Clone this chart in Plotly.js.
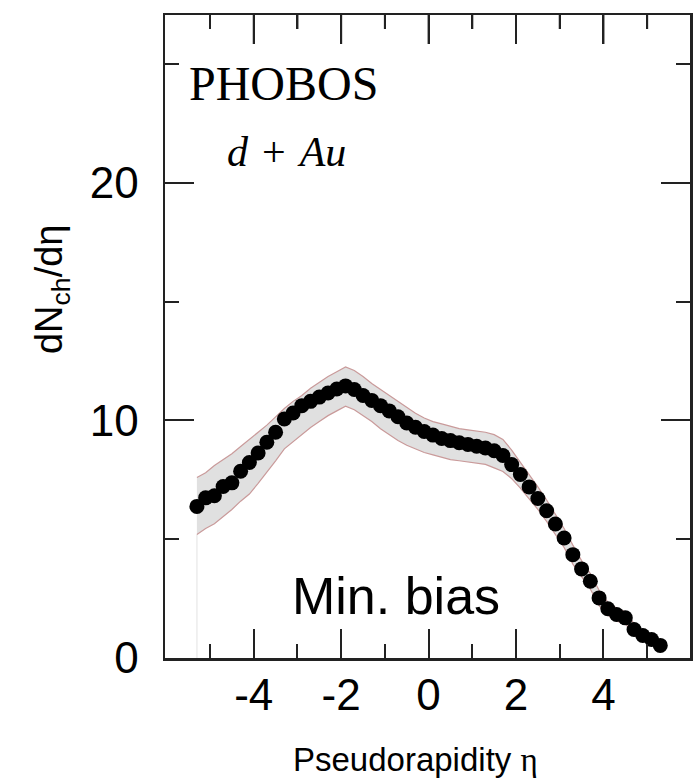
<!DOCTYPE html>
<html>
<head>
<meta charset="utf-8">
<script src="https://cdn.plot.ly/plotly-3.0.1.min.js"></script>
<style>html,body{margin:0;padding:0;background:#fff;}</style>
</head>
<body>
<div id="chart" style="width:695px;height:778px;"></div>
<script>
const eta = [-5.3,-5.1,-4.9,-4.7,-4.5,-4.3,-4.1,-3.9,-3.7,-3.5,-3.3,-3.1,-2.9,-2.7,-2.5,-2.3,-2.1,-1.9,
  -1.7,-1.5,-1.3,-1.1,-0.9,-0.7,-0.5,-0.3,-0.1,0.1,0.3,0.5,0.7,0.9,1.1,1.3,1.5,
  1.7,1.9,2.1,2.3,2.5,2.7,2.9,3.1,3.3,3.5,3.7,3.9,4.1,4.3,4.5,4.7,4.9,5.1,5.3];
const dndeta = [6.38,6.74,6.83,7.22,7.37,7.86,8.23,8.63,9.08,9.50,10.06,10.31,10.62,10.80,10.98,11.15,11.32,11.45,
  11.30,11.05,10.84,10.62,10.40,10.15,9.89,9.71,9.53,9.38,9.24,9.15,9.06,8.99,8.91,8.84,8.72,
  8.52,8.14,7.72,7.20,6.71,6.20,5.64,5.05,4.35,3.75,3.23,2.53,2.07,1.83,1.69,1.20,0.95,0.78,0.53];
const bandHigh = [7.6,7.8,8.1,8.35,8.6,8.9,9.2,9.5,9.8,10.15,10.5,10.8,11.05,11.35,11.6,11.85,12.05,12.25,
  12.1,11.85,11.55,11.3,11.05,10.8,10.55,10.3,10.1,9.95,9.85,9.75,9.65,9.6,9.55,9.5,9.4,
  9.2,8.75,8.25,7.7,7.2,6.65,6.05,5.45,4.75,4.1,3.55,2.85,2.35,2.1,1.95,1.45,1.15,0.95,0.7];
const bandLow = [5.2,5.45,5.65,5.95,6.25,6.6,6.9,7.35,7.8,8.3,8.8,9.1,9.4,9.7,9.95,10.2,10.4,10.6,
  10.45,10.2,9.95,9.65,9.4,9.15,8.95,8.8,8.65,8.55,8.45,8.35,8.3,8.25,8.2,8.15,8.0,
  7.85,7.55,7.15,6.7,6.25,5.75,5.2,4.65,3.95,3.4,2.9,2.2,1.8,1.55,1.45,0.95,0.75,0.6,0.35];
const xTickVals = [-4,-2,0,2,4];
const xTickText = ['-4','-2','0','2','4'];
const xMinorVals = [-5,-3,-1,1,3,5];
const yTickVals = [0,10,20];
const yTickText = ['0','10','20'];
const yMinorVals = [5,15,25];
const xRange = [-6.03, 5.98];
const yRange = [0, 27.06];

const bandLine = {color:'#c99a9a', width:1.2};
const traces = [
  {x: [eta[0], eta[0]], y: [0, bandLow[0]], mode:'lines', line:{color:'#ececec', width:1.5}, hoverinfo:'skip', showlegend:false},
  {x: eta, y: bandLow, mode:'lines', line: bandLine, hoverinfo:'skip', showlegend:false},
  {x: eta, y: bandHigh, mode:'lines', line: bandLine, fill:'tonexty', fillcolor:'#e0e0e0', hoverinfo:'skip', showlegend:false},
  {x: eta, y: dndeta, mode:'markers', marker:{color:'#000', size:15}, showlegend:false},
  {x: [], y: [], xaxis:'x2', yaxis:'y2', mode:'markers', showlegend:false, hoverinfo:'skip'}
];

const sans = 'Liberation Sans, Arial, Helvetica, sans-serif';
const serif = 'Liberation Serif, Times New Roman, serif';
const tickCol = '#222';
const plotH = 643;
function minorX() { return {tickmode:'array', tickvals: xMinorVals, ticks:'inside', ticklen: 14, tickwidth: 2, tickcolor: tickCol, showgrid:false}; }
function minorY() { return {tickmode:'array', tickvals: yMinorVals, ticks:'inside', ticklen: 14, tickwidth: 2, tickcolor: tickCol, showgrid:false}; }

// top-edge tick marks placed through the x scale (xref 'x')
const topTicks = xTickVals.map(v => ({type:'line', xref:'x', yref:'paper', x0:v, x1:v, y0:1, y1:1 - 29/plotH, line:{color:tickCol, width:2}, layer:'above'}))
  .concat(xMinorVals.map(v => ({type:'line', xref:'x', yref:'paper', x0:v, x1:v, y0:1, y1:1 - 14/plotH, line:{color:tickCol, width:2}, layer:'above'})));

const layout = {
  width: 695, height: 778,
  margin: {l:165, r:5, t:15, b:120},
  paper_bgcolor:'#fff', plot_bgcolor:'#fff',
  showlegend:false,
  xaxis: {
    range: xRange, tickmode:'array', tickvals: xTickVals, ticktext: xTickText,
    ticks:'inside', ticklen: 29, tickwidth: 2, tickcolor: tickCol, minor: minorX(),
    showline:true, linecolor:'#222', linewidth:2.5, mirror:true,
    showgrid:false, zeroline:false,
    tickfont:{family: sans, size: 44, color:'#000'}, ticklabelstandoff: -3
  },
  yaxis: {
    range: yRange, tickmode:'array', tickvals: yTickVals, ticktext: yTickText,
    ticks:'inside', ticklen: 29, tickwidth: 2, tickcolor: tickCol, minor: minorY(),
    showline:true, linecolor:'#222', linewidth:2.5, mirror:true,
    showgrid:false, zeroline:false,
    tickfont:{family: sans, size: 44, color:'#000'}, ticklabelstandoff: 15
  },
  xaxis2: {
    range: xRange, overlaying:'x', side:'top', anchor:'y2', tickmode:'array', tickvals: xTickVals,
    ticks:'inside', ticklen: 29, tickwidth: 2, tickcolor: tickCol, minor: minorX(),
    showticklabels:false, showgrid:false, zeroline:false, showline:false
  },
  yaxis2: {
    range: yRange, overlaying:'y', side:'right', anchor:'x2', tickmode:'array', tickvals: yTickVals,
    ticks:'inside', ticklen: 29, tickwidth: 2, tickcolor: tickCol, minor: minorY(),
    showticklabels:false, showgrid:false, zeroline:false, showline:false
  },
  shapes: topTicks,
  annotations: [
    {text:'PHOBOS', xref:'paper', yref:'paper', x:0.042, y:0.894, xanchor:'left', yanchor:'middle', showarrow:false,
     font:{family: serif, size:48, color:'#000'}},
    {text:'<i>d</i>\u2004+\u2004<i>Au</i>', xref:'paper', yref:'paper', x:0.231, y:0.787, xanchor:'center', yanchor:'middle', showarrow:false,
     font:{family: serif, size:42, color:'#000'}},
    {text:'Min. bias', xref:'paper', yref:'paper', x:0.44, y:0.0964, xanchor:'center', yanchor:'middle', showarrow:false,
     font:{family: sans, size:52, color:'#000'}},
    {text:'Pseudorapidity <span style="font-family:Liberation Serif">η</span>', xref:'paper', yref:'paper', x:0.478, y:-0.158, xanchor:'center', yanchor:'middle', showarrow:false,
     font:{family: sans, size:33, color:'#000'}},
    {text:'dN<sub>ch</sub>/dη', xref:'paper', yref:'paper', x:-0.215, y:0.574, xanchor:'center', yanchor:'middle', showarrow:false, textangle:-90,
     font:{family: sans, size:38, color:'#000'}}
  ]
};
Plotly.newPlot('chart', traces, layout, {displayModeBar:false, staticPlot:true});
</script>
</body>
</html>
